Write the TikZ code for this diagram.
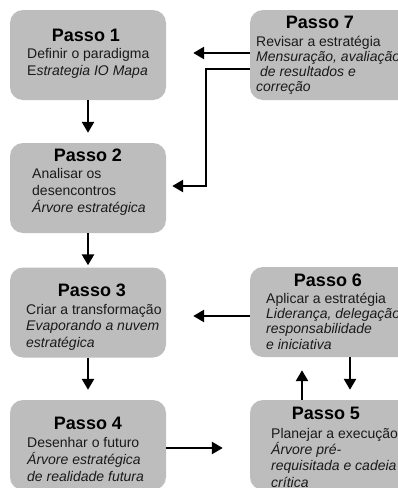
\documentclass[tikz,border=0pt]{standalone}
\usepackage{fontspec}
\setmainfont{Liberation Sans}
\usetikzlibrary{arrows.meta}
\definecolor{boxgray}{HTML}{BDBDBD}
\definecolor{textgray}{HTML}{1A1A1A}
\begin{document}
\begin{tikzpicture}[x=1pt,y=-1pt,
 box/.style={fill=boxgray, rounded corners=13pt, minimum width=156pt, minimum height=90pt, inner sep=0pt},
 title/.style={font=\bfseries\fontsize{18}{20}\selectfont, anchor=base, inner sep=0pt, text=black},
 body/.style={anchor=base west, align=left, inner sep=0pt, text=textgray},
 arr/.style={line width=2.6pt, -{Triangle[length=11pt,width=12pt]}},
]
\useasboundingbox (0,0) rectangle (398,488);
\fill[white] (0,0) rectangle (398,488);
\clip (0,0) rectangle (398,488);
% boxes
\node[box] (b1) at (88,55) {};
\node[box] (b2) at (88,188) {};
\node[box] (b3) at (88,312.5) {};
\node[box] (b4) at (88,445) {};
\node[box, minimum width=170pt] (b7) at (335,55) {};
\node[box, minimum width=170pt] (b6) at (335,312) {};
\node[box, minimum width=170pt] (b5) at (335,445) {};
% titles
\node[title] (h1) at (86,41.5) {Passo 1};
\node[title] (h2) at (88,161.5) {Passo 2};
\node[title] (h3) at (92,296.5) {Passo 3};
\node[title] (h4) at (88,429.5) {Passo 4};
\node[title] (h6) at (328,286.5) {Passo 6};
\node[title] (h5) at (326,419.5) {Passo 5};
\node[title] (h7) at (320,28.5) {Passo 7};
% bodies (anchored at the baseline of the last line)
\node[body, font=\fontsize{14}{17}\selectfont] (p1) at (27,75) {Definir o paradigma\\E\textit{strategia IO Mapa}};
\node[body, font=\fontsize{14}{17}\selectfont] (p2) at (32,212) {Analisar os\\desencontros\\\textit{Árvore estratégica}};
\node[body, font=\fontsize{14}{16.5}\selectfont] (p3) at (26,347) {Criar a transformação\\\textit{Evaporando a nuvem}\\\textit{estratégica}};
\node[body, font=\fontsize{14}{17}\selectfont] (p4) at (27,481) {Desenhar o futuro\\\textit{Árvore estratégica}\\\textit{de realidade futura}};
\node[body, font=\fontsize{14}{15.3}\selectfont] (p6) at (266,349) {Aplicar a estratégia\\\textit{Liderança, delegação,}\\\textit{responsabilidade}\\\textit{e iniciativa}};
\node[body, font=\fontsize{14}{16.3}\selectfont] (p5) at (271,487) {Planejar a execução\\\textit{Árvore pré-}\\\textit{requisitada e cadeia}\\\textit{crítica}};
\node[body, font=\fontsize{14}{15}\selectfont] (p7) at (256,91) {Revisar a estratégia\\\textit{Mensuração, avaliação}\\\textit{\ de resultados e}\\\textit{correção}};
% connectors
\coordinate (k) at (206,186);
\draw[arr, shorten >=10pt] (b1) -- (b2);
\draw[arr, shorten >=2pt] (b2) -- (b3);
\draw[arr, shorten >=10pt] (b3) -- (b4);
\draw[arr, shorten >=27pt] ([yshift=-3pt]b4.east) -- ([yshift=-3pt]b5.west);
\draw[arr, shorten >=13pt] ([xshift=-33pt]b5.north) -- ([xshift=-33pt]b6.south);
\draw[arr, shorten >=10pt] ([xshift=15pt]b6.south) -- ([xshift=15pt]b5.north);
\draw[arr, shorten >=27pt] ([yshift=-4pt]b6.west) -- ([yshift=-3.5pt]b3.east);
\draw[arr, shorten >=27pt] ([yshift=2pt]b7.west) -- ([yshift=2pt]b1.east);
\draw[arr, shorten >=6pt] ([yshift=-14pt]b7.west) -| (k) -- ([yshift=2pt]b2.east);
\end{tikzpicture}
\end{document}
